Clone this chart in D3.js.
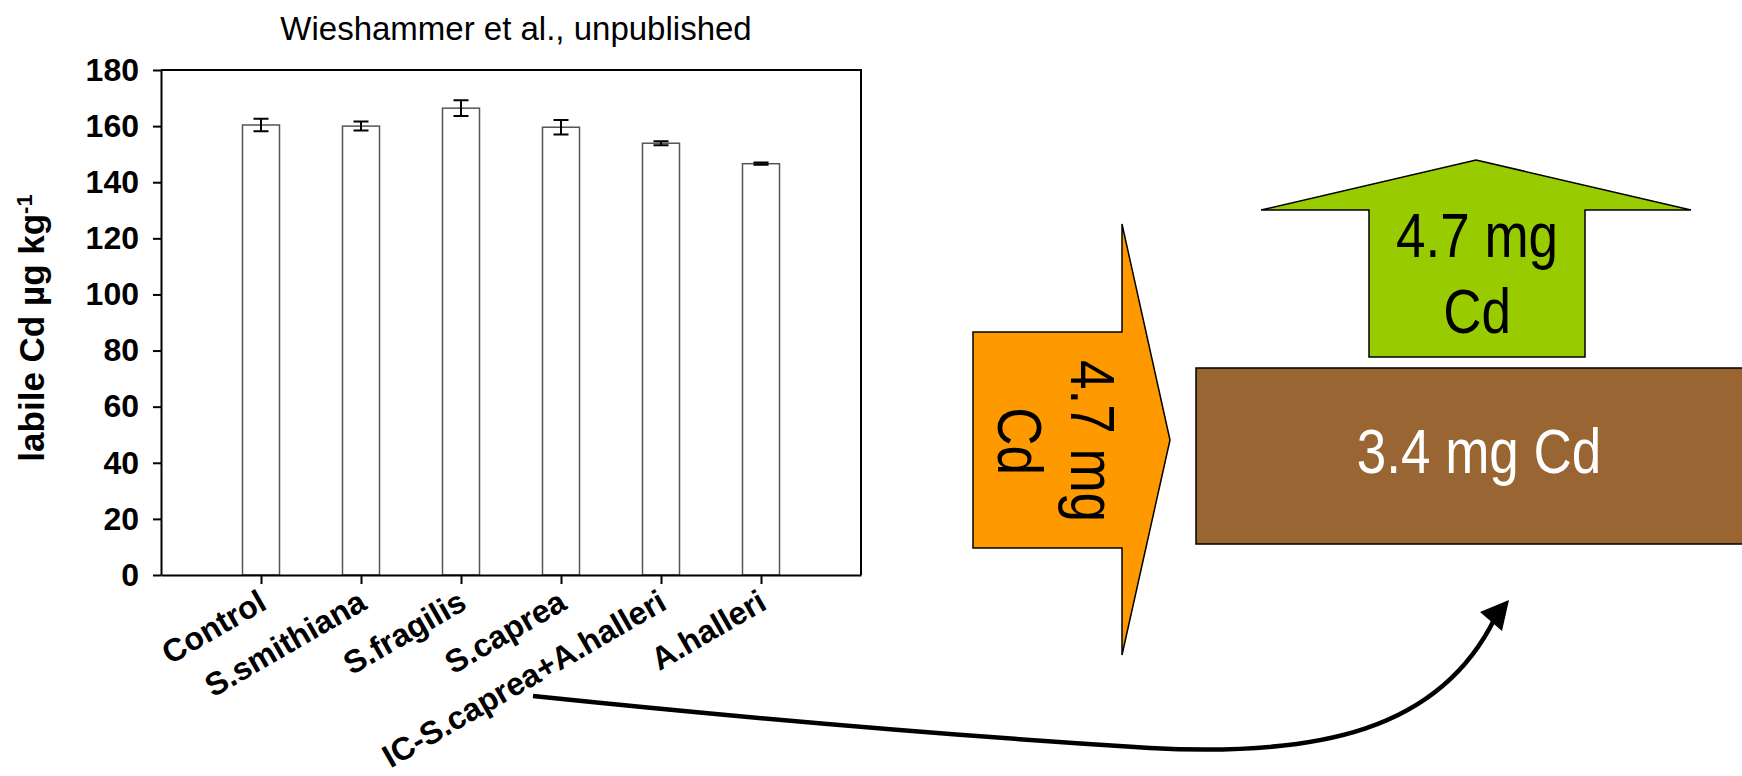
<!DOCTYPE html>
<html>
<head>
<meta charset="utf-8">
<script src="https://cdn.jsdelivr.net/npm/d3@7"></script>
<style>
  body { margin: 0; background: #fff; }
  text { font-family: "Liberation Sans", Arial, sans-serif; }
</style>
</head>
<body>
<svg id="chart" width="1742" height="776"></svg>
<script>
// data
const categories = ["Control", "S.smithiana", "S.fragilis", "S.caprea", "IC-S.caprea+A.halleri", "A.halleri"];
const means = [160.4, 160.0, 166.4, 159.6, 153.9, 146.6];
const errors = [2.2, 1.6, 2.8, 2.6, 0.7, 0.4];
const yTicks = [0, 20, 40, 60, 80, 100, 120, 140, 160, 180];

// flux labels for the side diagram
const inputLabel = ["4.7 mg", "Cd"];
const uptakeLabel = ["4.7 mg", "Cd"];
const soilLabel = ["3.4 mg Cd"];

const svg = d3.select("#chart");
const plot = { left: 161, right: 861, top: 70, bottom: 575 };

const x = d3.scalePoint()
    .domain(categories)
    .range([plot.left, plot.right])
    .padding(1);

const y = d3.scaleLinear()
    .domain([0, 180])
    .range([plot.bottom, plot.top]);

const data = categories.map((c, i) => ({ name: c, value: means[i], err: errors[i] }));

// --- title ---
svg.append("text")
    .attr("x", 516).attr("y", 40)
    .attr("text-anchor", "middle")
    .style("font-size", "33px")
    .text("Wieshammer et al., unpublished");

// --- frame (top and right) ---
svg.append("path")
    .attr("d", `M${plot.left},${plot.top}H${plot.right}V${plot.bottom}`)
    .attr("fill", "none").attr("stroke", "#000").attr("stroke-width", 2);

// --- bars ---
const barW = 37;
svg.append("g")
    .selectAll("rect")
    .data(data)
    .join("rect")
    .attr("x", d => x(d.name) - barW / 2)
    .attr("y", d => y(d.value))
    .attr("width", barW)
    .attr("height", d => y(0) - y(d.value))
    .attr("fill", "#fff")
    .attr("stroke", "#555")
    .attr("stroke-width", 1.5);

// --- error bars ---
const capW = 7.5;
const eb = svg.append("g").attr("stroke", "#000").attr("stroke-width", 2);
eb.selectAll("path")
    .data(data)
    .join("path")
    .attr("fill", "none")
    .attr("d", d => {
        const cx = x(d.name), t = y(d.value + d.err), b = y(d.value - d.err);
        return `M${cx - capW},${t}H${cx + capW}M${cx},${t}V${b}M${cx - capW},${b}H${cx + capW}`;
    });

// --- axes ---
const yAxis = svg.append("g")
    .attr("transform", `translate(${plot.left},0)`)
    .call(d3.axisLeft(y).tickValues(yTicks).tickSize(8).tickSizeOuter(0).tickPadding(14));
yAxis.selectAll("text")
    .style("font-size", "32px").style("font-weight", "bold").attr("fill", "#000");
yAxis.selectAll("line, path").attr("stroke", "#000").attr("stroke-width", 2);

const xAxis = svg.append("g")
    .attr("transform", `translate(0,${plot.bottom})`)
    .call(d3.axisBottom(x).tickSize(9).tickSizeOuter(0));
xAxis.selectAll("line, path").attr("stroke", "#000").attr("stroke-width", 2);
xAxis.selectAll("text")
    .attr("x", 0).attr("y", 0).attr("dy", 0)
    .attr("text-anchor", "end")
    .attr("transform", "translate(7,33) rotate(-30)")
    .style("font-size", "32px").style("font-weight", "bold").attr("fill", "#000");

// y axis title
const yt = svg.append("text")
    .attr("transform", "translate(44,328) rotate(-90)")
    .attr("text-anchor", "middle")
    .style("font-size", "35px").style("font-weight", "bold");
yt.append("tspan").text("labile Cd µg kg");
yt.append("tspan").attr("dy", "-0.55em").style("font-size", "22px").text("-1");

// --- side diagram ---
const diagram = svg.append("g").attr("stroke", "#000").attr("stroke-width", 1.5);

// soil pool
diagram.append("rect")
    .attr("x", 1196).attr("y", 368).attr("width", 600).attr("height", 176)
    .attr("fill", "#996633");

// uptake arrow (up)
diagram.append("polygon")
    .attr("points", [[1476, 160], [1691, 210], [1585, 210], [1585, 357], [1369, 357], [1369, 210], [1261, 210]].join(" "))
    .attr("fill", "#99cc00");

// input arrow (right)
diagram.append("polygon")
    .attr("points", [[973, 332], [1122, 332], [1122, 224], [1170, 440], [1122, 655], [1122, 548], [973, 548]].join(" "))
    .attr("fill", "#ff9900");

const narrow = "scale(0.855,1)";
svg.append("g").attr("transform", `translate(1477,0)`)
    .selectAll("text").data(uptakeLabel).join("text")
    .attr("transform", (d, i) => `translate(0,${257 + i * 76}) ${narrow}`)
    .attr("text-anchor", "middle").style("font-size", "62px").attr("fill", "#000")
    .text(d => d);

svg.append("g")
    .selectAll("text").data(soilLabel).join("text")
    .attr("transform", `translate(1479,473) ${narrow}`)
    .attr("text-anchor", "middle").style("font-size", "62px").attr("fill", "#fff")
    .text(d => d);

svg.append("g").attr("transform", "translate(1071,441) rotate(90)")
    .selectAll("text").data(inputLabel).join("text")
    .attr("transform", (d, i) => `translate(0,${i * 73}) ${narrow}`)
    .attr("text-anchor", "middle").style("font-size", "62px").attr("fill", "#000")
    .text(d => d);

// curved arrow from the intercropping label to the soil pool
svg.append("path")
    .attr("d", "M533,696 Q860,730 1150,748 C1320,757 1440,730 1495,618")
    .attr("fill", "none").attr("stroke", "#000").attr("stroke-width", 4.5);
svg.append("polygon")
    .attr("points", [[1509, 600], [1480, 612], [1502, 631]].join(" "))
    .attr("fill", "#000");
</script>
</body>
</html>
